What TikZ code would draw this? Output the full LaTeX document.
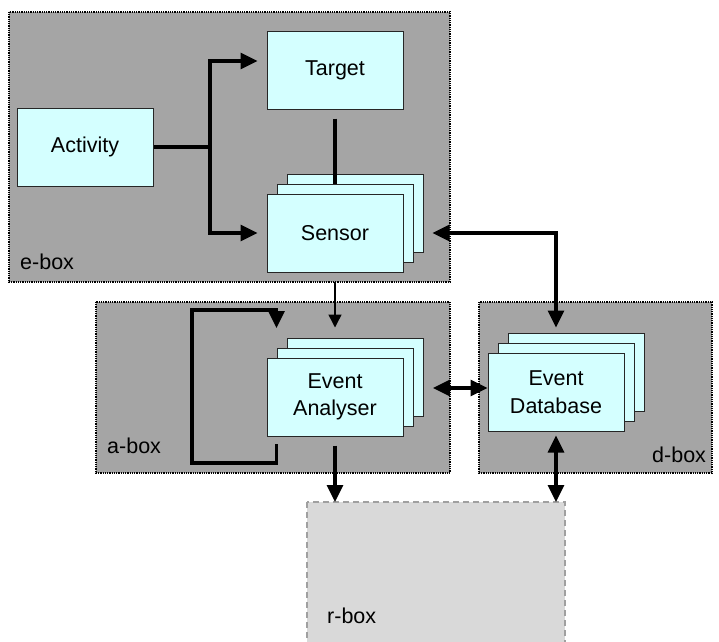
\documentclass[tikz,border=0pt]{standalone}
\usepackage{fontspec}
\setmainfont{Liberation Sans}
\usetikzlibrary{arrows.meta,calc}
\definecolor{contgray}{HTML}{A5A5A5}
\definecolor{boxcyan}{HTML}{D4FFFF}
\definecolor{rgray}{HTML}{D9D9D9}
\definecolor{rborder}{HTML}{A0A0A0}
\tikzset{
  container/.style={draw=black, fill=contgray, line width=1.3pt, dash pattern=on 1pt off 0.8pt},
  rcontainer/.style={draw=rborder, fill=rgray, line width=1.3pt, dash pattern=on 6pt off 4pt},
  cbox/.style={draw=black!85, fill=boxcyan, line width=1pt, minimum width=136pt, minimum height=78pt, inner sep=0pt, align=center, font=\fontsize{21.5}{27.5}\selectfont},
  lbl/.style={inner sep=0pt, anchor=base west, font=\fontsize{21.5}{26}\selectfont},
  thickconn/.style={line width=3.2pt},
  thickarr/.style={line width=3.2pt, -{Triangle[length=17pt 0,width=16pt 0]}},
  dblarr/.style={line width=3.2pt, {Triangle[length=17pt 0,width=16pt 0]}-{Triangle[length=17pt 0,width=16pt 0]}},
  thinarr/.style={line width=1.4pt, -{Triangle[length=13pt 0,width=13pt 0]}}
}
\newcommand\mystack[4]{%
  \node[cbox] (#1B) at ($(#2)+(20,-20)$) {};
  \node[cbox] (#1M) at ($(#2)+(10,-10)$) {};
  \node[cbox] (#1) at (#2) {#3#4};
}
\begin{document}
\begin{tikzpicture}[x=1pt,y=-1pt]
\useasboundingbox (0,0) rectangle (719,641);
% containers
\path[container] (9,12) rectangle (450,282);
\coordinate (eboxS) at (335,282);
\path[container] (96,302) rectangle (450,473);
\path[container] (479,302) rectangle (712,473);
\path[rcontainer] (307,502) rectangle (565,645);
\coordinate (rboxN1) at (335,502);
\coordinate (rboxN2) at (556,502);
\node[lbl] (elbl) at (20,269) {e-box};
\node[lbl] (albl) at (107,453) {a-box};
\node[lbl] (dlbl) at (652,462) {d-box};
\node[lbl] (rlbl) at (327,623) {r-box};
% boxes
\node[cbox] (activity) at (85,147) {Activity};
\node[cbox] (target) at (335,70) {Target};
\coordinate (sensorpos) at (335,233);
\mystack{sensor}{sensorpos}{Sensor}{}
\coordinate (eapos) at (335,397);
\mystack{ea}{eapos}{Event\\}{Analyser}
\coordinate (edpos) at (556,392);
\mystack{ed}{edpos}{Event\\}{Database}
% connectors
\coordinate (branch) at (210,147);
\draw[thickconn] (activity.east) -- (branch);
\draw[thickarr, shorten >=9pt] (branch) |- ($(target.west)+(0,-9)$);
\draw[thickarr, shorten >=9pt] (branch) |- (sensor.west);
\draw[thickconn, shorten <=9pt] (target.south) -- (target.south |- sensorM.north);
\draw[dblarr, shorten <=9pt, shorten >=5pt] (sensorB.east |- sensor.east) -| (ed.north |- edB.north);
\draw[thinarr, shorten >=10pt] (eboxS) -- (ea.north |- eaB.north);
% loop
\coordinate (loopA) at (eaM.west |- 0,444);
\coordinate (loopB) at (eaM.west |- 0,463);
\coordinate (loopC) at (192,463);
\coordinate (loopD) at (192,310);
\coordinate (loopE) at (eaM.west |- 0,310);
\coordinate (loopF) at (eaM.west |- 0,328);
\draw[thickarr, line join=miter] (loopA) -- (loopB) -- (loopC) -- (loopD) -- (loopE) -- (loopF);
% EA <-> ED
\coordinate (eaR) at (422,388);
\draw[dblarr, shorten <=11pt] (eaR) -- (ed.west |- eaR);
\draw[thickarr, shorten <=9pt] (ea.south) -- (rboxN1);
\draw[dblarr, shorten <=4pt] (ed.south) -- (rboxN2);
\end{tikzpicture}
\end{document}
